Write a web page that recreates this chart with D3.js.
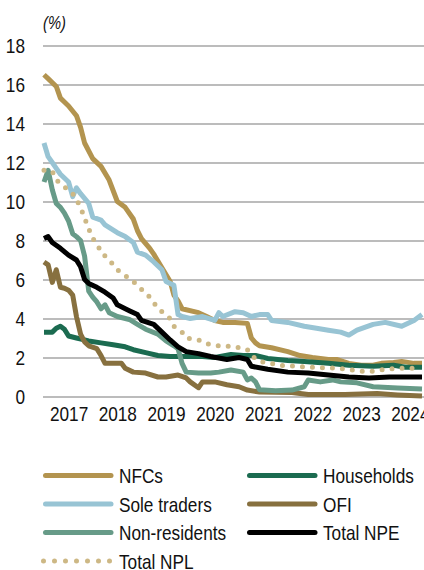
<!DOCTYPE html>
<html>
<head>
<meta charset="utf-8">
<script src="https://cdn.jsdelivr.net/npm/d3@7"></script>
<style>
  body { margin: 0; background: #fff; }
  svg { display: block; font-family: "Liberation Sans", Arial, sans-serif; }
</style>
</head>
<body>
<script>
// size of the picture
var w = 424;
var h = 570;
var squeeze = 0.82; // the source uses a narrow font

// series, [month, %]
var nfcs = [["2016-07",16.5],["2016-08",16.3],["2016-10",15.9],["2016-11",15.3],["2016-12",15.1],["2017-01",14.9],["2017-03",14.4],["2017-04",13.8],["2017-05",13.0],["2017-07",12.2],["2017-09",11.8],["2017-11",11.1],["2018-01",10.0],["2018-03",9.7],["2018-05",9.1],["2018-06",8.5],["2018-07",8.1],["2018-09",7.6],["2018-10",7.3],["2018-12",6.6],["2019-02",5.9],["2019-03",5.2],["2019-04",4.9],["2019-05",4.5],["2019-09",4.3],["2019-11",4.1],["2020-01",3.9],["2020-03",3.8],["2020-06",3.8],["2020-09",3.75],["2020-10",3.0],["2020-11",2.75],["2020-12",2.6],["2021-03",2.5],["2021-07",2.3],["2021-10",2.1],["2022-01",2.0],["2022-05",1.9],["2022-07",1.9],["2022-10",1.7],["2023-01",1.6],["2023-04",1.6],["2023-06",1.7],["2023-09",1.75],["2023-11",1.8],["2024-02",1.7],["2024-04",1.7]];

var households = [["2016-07",3.3],["2016-09",3.3],["2016-10",3.5],["2016-11",3.6],["2016-12",3.45],["2017-01",3.1],["2017-03",3.0],["2017-06",2.85],["2017-09",2.75],["2017-12",2.65],["2018-03",2.55],["2018-05",2.4],["2018-08",2.25],["2018-11",2.1],["2019-02",2.05],["2019-07",2.05],["2019-10",2.05],["2020-01",2.0],["2020-05",2.15],["2020-08",2.1],["2020-11",2.1],["2021-02",1.95],["2021-07",1.85],["2021-11",1.8],["2022-05",1.7],["2022-10",1.6],["2023-04",1.55],["2023-09",1.6],["2023-12",1.5],["2024-04",1.5]];

var soleTraders = [["2016-07",13.0],["2016-08",12.3],["2016-09",12.0],["2016-10",11.7],["2016-11",11.4],["2017-01",11.0],["2017-02",10.25],["2017-03",10.7],["2017-04",10.4],["2017-06",9.9],["2017-07",9.2],["2017-09",9.05],["2017-10",8.8],["2018-01",8.4],["2018-03",8.2],["2018-05",7.9],["2018-06",7.4],["2018-08",7.25],["2018-10",6.9],["2018-12",6.5],["2019-01",5.9],["2019-03",5.7],["2019-04",4.2],["2019-05",4.1],["2019-07",4.0],["2019-10",4.1],["2020-01",3.9],["2020-02",4.3],["2020-03",4.1],["2020-06",4.35],["2020-08",4.3],["2020-10",4.1],["2020-12",4.2],["2021-02",4.2],["2021-03",3.9],["2021-07",3.8],["2021-11",3.6],["2022-02",3.5],["2022-05",3.4],["2022-08",3.3],["2022-10",3.15],["2022-12",3.4],["2023-04",3.7],["2023-07",3.8],["2023-11",3.6],["2024-02",3.9],["2024-04",4.2]];

var ofi = [["2016-07",6.9],["2016-08",6.75],["2016-09",5.85],["2016-10",6.5],["2016-11",5.6],["2016-12",5.55],["2017-01",5.45],["2017-02",5.2],["2017-03",4.1],["2017-04",3.2],["2017-05",2.8],["2017-06",2.6],["2017-08",2.45],["2017-09",2.1],["2017-10",1.7],["2018-02",1.7],["2018-03",1.45],["2018-05",1.25],["2018-08",1.2],["2018-11",1.0],["2019-01",1.0],["2019-04",1.1],["2019-06",0.95],["2019-07",0.75],["2019-09",0.45],["2019-10",0.75],["2020-01",0.75],["2020-04",0.6],["2020-07",0.5],["2020-09",0.33],["2020-12",0.23],["2021-08",0.2],["2021-12",0.1],["2022-09",0.1],["2023-05",0.15],["2023-10",0.08],["2024-04",0.02]];

var nonResidents = [["2016-07",11.0],["2016-08",11.6],["2016-09",10.6],["2016-10",9.9],["2016-11",9.7],["2016-12",9.4],["2017-01",9.0],["2017-02",8.35],["2017-03",8.2],["2017-04",8.0],["2017-05",7.2],["2017-06",5.4],["2017-07",5.1],["2017-08",4.85],["2017-09",4.5],["2017-10",4.7],["2017-11",4.3],["2018-01",4.1],["2018-04",3.95],["2018-06",3.7],["2018-08",3.45],["2018-11",3.2],["2019-01",2.85],["2019-03",2.6],["2019-04",2.45],["2019-05",1.7],["2019-06",1.25],["2019-09",1.2],["2019-12",1.2],["2020-02",1.25],["2020-05",1.36],["2020-08",1.25],["2020-09",0.85],["2020-10",0.95],["2020-11",0.75],["2020-12",0.35],["2021-04",0.3],["2021-08",0.33],["2021-11",0.5],["2021-12",0.85],["2022-03",0.75],["2022-06",0.85],["2022-08",0.75],["2022-12",0.7],["2023-04",0.5],["2023-10",0.43],["2024-04",0.38]];

var totalNPE = [["2016-07",8.1],["2016-08",8.2],["2016-09",7.9],["2016-11",7.6],["2017-01",7.25],["2017-03",7.0],["2017-04",6.65],["2017-05",6.0],["2017-06",5.8],["2017-08",5.6],["2017-10",5.35],["2017-12",5.05],["2018-01",4.7],["2018-04",4.4],["2018-06",4.2],["2018-07",3.9],["2018-10",3.7],["2018-12",3.3],["2019-02",2.9],["2019-04",2.55],["2019-06",2.3],["2019-09",2.2],["2019-12",2.05],["2020-04",1.9],["2020-07",2.0],["2020-09",1.9],["2020-10",1.55],["2021-02",1.4],["2021-07",1.25],["2021-12",1.2],["2022-05",1.1],["2022-10",1.0],["2023-03",0.95],["2023-08",1.0],["2024-04",1.0]];

var totalNPL = [["2016-07",11.6],["2016-09",11.55],["2016-10",11.1],["2016-12",10.75],["2017-02",10.4],["2017-03",10.1],["2017-04",9.7],["2017-05",9.15],["2017-06",8.6],["2017-07",8.1],["2017-08",7.85],["2017-09",7.4],["2017-11",7.0],["2018-01",6.5],["2018-03",6.2],["2018-05",5.9],["2018-07",5.5],["2018-09",5.1],["2018-10",4.8],["2018-12",4.35],["2019-02",4.0],["2019-03",3.6],["2019-05",3.3],["2019-06",3.0],["2019-09",2.9],["2019-11",2.7],["2020-02",2.6],["2020-06",2.55],["2020-09",2.4],["2020-10",2.1],["2020-12",1.8],["2021-03",1.7],["2021-05",1.6],["2021-09",1.55],["2022-01",1.5],["2022-07",1.45],["2022-10",1.38],["2023-01",1.3],["2023-04",1.3],["2023-07",1.4],["2023-10",1.45],["2024-04",1.45]];

var yTicks = [0, 2, 4, 6, 8, 10, 12, 14, 16, 18];
var yearTicks = [2017, 2018, 2019, 2020, 2021, 2022, 2023, 2024];

// series list, in legend order (drawn in this order too)
var series = [
  { name: "NFCs", data: nfcs, color: "#b3944f" },
  { name: "Households", data: households, color: "#1b6b50" },
  { name: "Sole traders", data: soleTraders, color: "#98c4d4" },
  { name: "OFI", data: ofi, color: "#87703f" },
  { name: "Non-residents", data: nonResidents, color: "#679b88" },
  { name: "Total NPE", data: totalNPE, color: "#000000" },
  { name: "Total NPL", data: totalNPL, color: "#cdb885", dotted: true }
];

var parseMonth = d3.timeParse("%Y-%m");

var x = d3.scaleTime()
  .domain([parseMonth("2016-07"), parseMonth("2024-04")])
  .range([44, 422]);

var y = d3.scaleLinear()
  .domain([0, 18])
  .range([396.5, 45.5]);

var svg = d3.select("body").append("svg").attr("width", w).attr("height", h);

svg.append("rect").attr("width", w).attr("height", h).attr("fill", "#fff");

// unit label
svg.append("text")
  .attr("transform", "translate(43,29) scale(" + squeeze + ",1)")
  .style("font-size", "18px")
  .style("font-style", "italic")
  .attr("fill", "#111")
  .text("(%)");

// y axis with grid lines
var yAxis = svg.append("g")
  .attr("transform", "translate(43,0)")
  .call(d3.axisLeft(y).tickValues(yTicks).tickSize(-(w - 43)).tickPadding(0));

yAxis.select(".domain").remove();
yAxis.selectAll("line").attr("stroke", "#a6a6a6").attr("stroke-width", 1.3);
yAxis.selectAll("text")
  .attr("x", -18 / squeeze)
  .attr("dy", "0.34em")
  .attr("transform", "scale(" + squeeze + ",1)")
  .attr("fill", "#111")
  .style("font-size", "21px")
  .style("font-family", "'Liberation Sans', Arial, sans-serif");

// x axis, labels only
var xAxis = svg.append("g")
  .attr("transform", "translate(0,396.5)")
  .call(d3.axisBottom(x)
    .tickValues(yearTicks.map(function(d) { return new Date(d, 0, 1); }))
    .tickSize(0)
    .tickFormat(d3.timeFormat("%Y")));

xAxis.select(".domain").remove();
xAxis.selectAll("text")
  .attr("y", 24.5)
  .attr("dy", 0)
  .attr("transform", "scale(" + squeeze + ",1)")
  .attr("fill", "#111")
  .style("font-size", "21px")
  .style("font-family", "'Liberation Sans', Arial, sans-serif");

// the lines
var line = d3.line()
  .x(function(d) { return x(parseMonth(d[0])); })
  .y(function(d) { return y(d[1]); });

svg.append("g").selectAll("path")
  .data(series)
  .enter().append("path")
  .attr("d", function(s) { return line(s.data); })
  .attr("fill", "none")
  .attr("stroke", function(s) { return s.color; })
  .attr("stroke-width", 5)
  .attr("stroke-linejoin", "round")
  .attr("stroke-linecap", function(s) { return s.dotted ? "round" : "butt"; })
  .attr("stroke-dasharray", function(s) { return s.dotted ? "0,10" : null; });

// legend, two columns
var legend = svg.append("g").selectAll("g")
  .data(series)
  .enter().append("g")
  .attr("transform", function(s, i) {
    var col = i % 2;
    var row = Math.floor(i / 2);
    return "translate(" + (col ? 247 : 43) + "," + (475.5 + row * 28.5) + ")";
  });

legend.append("line")
  .attr("x1", function(s) { return s.dotted ? 0.5 : 2.5; })
  .attr("x2", function(s) { return s.dotted ? 67 : 68; })
  .attr("stroke", function(s) { return s.color; })
  .attr("stroke-width", 5)
  .attr("stroke-linecap", "round")
  .attr("stroke-dasharray", function(s) { return s.dotted ? "0,11" : null; });

legend.append("text")
  .attr("transform", "translate(76,7.5) scale(" + squeeze + ",1)")
  .attr("fill", "#111")
  .style("font-size", "21px")
  .text(function(s) { return s.name; });
</script>
</body>
</html>
